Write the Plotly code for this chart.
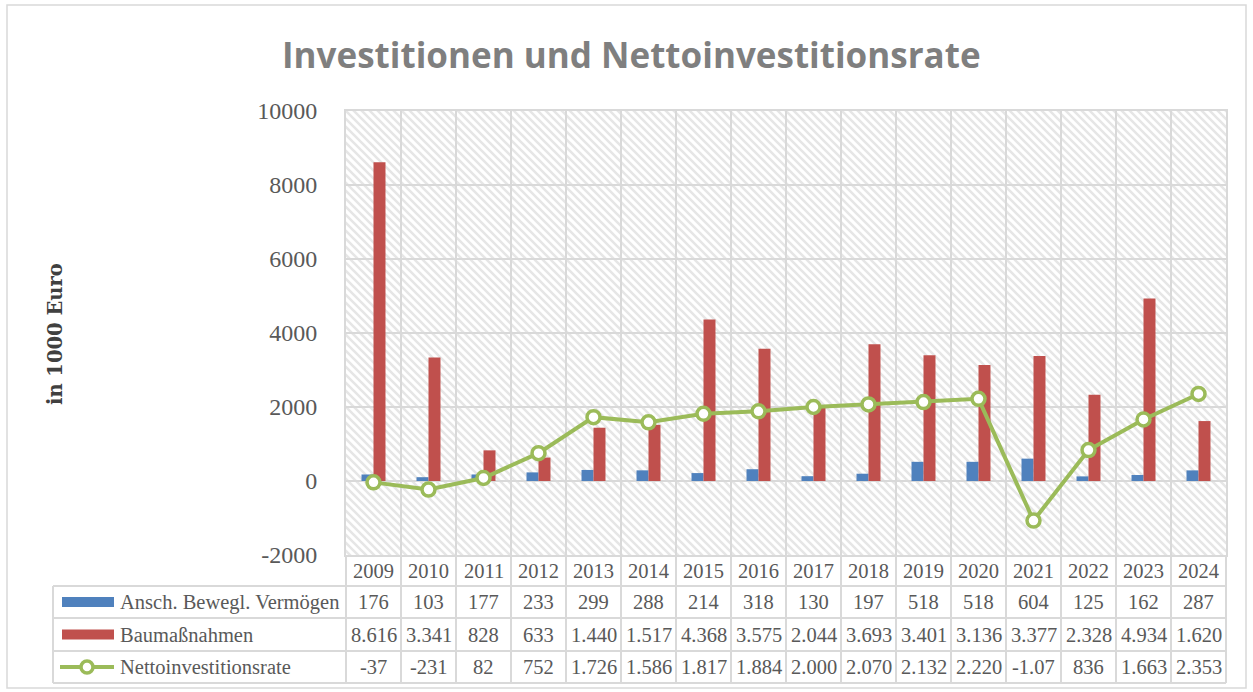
import base64
import plotly.graph_objects as go

# ---------------- data ----------------
years = ["2009", "2010", "2011", "2012", "2013", "2014", "2015", "2016",
         "2017", "2018", "2019", "2020", "2021", "2022", "2023", "2024"]
ansch = [176, 103, 177, 233, 299, 288, 214, 318, 130, 197, 518, 518, 604, 125, 162, 287]
bau = [8616, 3341, 828, 633, 1440, 1517, 4368, 3575, 2044, 3693, 3401, 3136, 3377, 2328, 4934, 1620]
netto = [-37, -231, 82, 752, 1726, 1586, 1817, 1884, 2000, 2070, 2132, 2220, -1070, 836, 1663, 2353]
netto_label_override = {"2021": "-1.07"}  # as printed in the source table
y_ticks = [-2000, 0, 2000, 4000, 6000, 8000, 10000]

series_names = ["Ansch. Bewegl. Vermögen", "Baumaßnahmen", "Nettoinvestitionsrate"]
title_text = "Investitionen und Nettoinvestitionsrate"
y_title = "in 1000 Euro"

BLUE = "#4f81bd"
RED = "#c0504d"
GREEN = "#9bbb59"
GRID = "#d9d9d9"
TXT = "#595959"
SERIF = "Liberation Serif, Times New Roman, serif"


def de_fmt(v):
    s = f"{abs(v):,}".replace(",", ".")
    return ("-" if v < 0 else "") + s


# ---------------- geometry (pixels) ----------------
FW, FH = 1253, 692
L, R, T, B = 346, 1226, 111, 555
W, H = R - L, B - T


def px(x):
    return (x - L) / W


def py(y):
    return (B - y) / H


fig = go.Figure()
fig.add_trace(go.Bar(x=years, y=ansch, name=series_names[0], marker_color=BLUE,
                     marker_line_width=0))
fig.add_trace(go.Bar(x=years, y=bau, name=series_names[1], marker_color=RED,
                     marker_line_width=0))
fig.add_trace(go.Scatter(x=years, y=netto, name=series_names[2], mode="lines+markers",
                         line=dict(color=GREEN, width=4),
                         marker=dict(symbol="circle", size=13, color="white",
                                     line=dict(color=GREEN, width=3.5))))

# hatched plot background
svg = (
    f'<svg xmlns="http://www.w3.org/2000/svg" width="{W}" height="{H}">'
    '<defs><pattern id="p" patternUnits="userSpaceOnUse" width="8" height="8">'
    '<path d="M0,0 L8,8 M-2,6 L2,10 M6,-2 L10,2" stroke="#e6e6e6" stroke-width="2.6"/>'
    '</pattern></defs>'
    f'<rect width="{W}" height="{H}" fill="white"/>'
    f'<rect width="{W}" height="{H}" fill="url(#p)"/></svg>'
)
src = "data:image/svg+xml;base64," + base64.b64encode(svg.encode()).decode()

shapes = []
annotations = []

# outer chart border
shapes.append(dict(type="rect", xref="paper", yref="paper",
                   x0=px(7), x1=px(1246), y0=py(5), y1=py(688),
                   line=dict(color=GRID, width=1.5), layer="below"))

# data table grid
row_lines = [586, 618, 651, 683]
for yy in row_lines:
    shapes.append(dict(type="line", xref="paper", yref="paper",
                       x0=px(53), x1=px(R), y0=py(yy), y1=py(yy),
                       line=dict(color=GRID, width=2)))
shapes.append(dict(type="line", xref="paper", yref="paper",
                   x0=px(53), x1=px(53), y0=py(586), y1=py(683),
                   line=dict(color=GRID, width=2)))
for i in range(len(years) + 1):
    xx = L + W * i / len(years)
    shapes.append(dict(type="line", xref="paper", yref="paper",
                       x0=px(xx), x1=px(xx), y0=py(B), y1=py(683),
                       line=dict(color=GRID, width=2)))

row_centers = [570.5, 602, 634.5, 667]
tfont = dict(family=SERIF, size=20.5, color=TXT)
# category axes take the category's serial number for annotation positions
for idx, yr in enumerate(years):
    annotations.append(dict(x=idx, xref="x", y=py(row_centers[0]), yref="paper",
                            text=yr, showarrow=False, font=tfont,
                            xanchor="center", yanchor="middle"))
rows = [
    [de_fmt(v) for v in ansch],
    [de_fmt(v) for v in bau],
    [netto_label_override.get(yr, de_fmt(v)) for yr, v in zip(years, netto)],
]
for r, vals in enumerate(rows):
    for idx, t in enumerate(vals):
        annotations.append(dict(x=idx, xref="x", y=py(row_centers[r + 1]), yref="paper",
                                text=t, showarrow=False, font=tfont,
                                xanchor="center", yanchor="middle"))
    annotations.append(dict(x=px(118), xref="paper", y=py(row_centers[r + 1]), yref="paper",
                            text=series_names[r], showarrow=False, font=tfont,
                            xanchor="left", yanchor="middle"))

# legend keys in the table
for r, col in enumerate([BLUE, RED]):
    yc = row_centers[r + 1]
    shapes.append(dict(type="rect", xref="paper", yref="paper",
                       x0=px(62), x1=px(114), y0=py(yc - 5), y1=py(yc + 5),
                       fillcolor=col, line=dict(width=0)))
yc = row_centers[3]
shapes.append(dict(type="line", xref="paper", yref="paper",
                   x0=px(60), x1=px(114), y0=py(yc), y1=py(yc),
                   line=dict(color=GREEN, width=4)))
shapes.append(dict(type="circle", xref="paper", yref="paper",
                   x0=px(81), x1=px(93), y0=py(yc - 6), y1=py(yc + 6),
                   fillcolor="white", line=dict(color=GREEN, width=3.5)))

# title and y-axis title
annotations.append(dict(x=px(631), xref="paper", y=py(55), yref="paper",
                        text=f"<b>{title_text}</b>", showarrow=False,
                        font=dict(family="Open Sans, sans-serif", size=35, color="#7f7f7f"),
                        xanchor="center", yanchor="middle"))
annotations.append(dict(x=px(55), xref="paper", y=py(334), yref="paper",
                        text=f"<b>{y_title}</b>", showarrow=False, textangle=-90,
                        font=dict(family="DejaVu Serif, serif", size=19.5, color="#404040"),
                        xanchor="center", yanchor="middle"))

fig.update_layout(
    width=FW, height=FH,
    margin=dict(l=L, r=FW - R, t=T, b=FH - B, pad=0),
    paper_bgcolor="white", plot_bgcolor="white",
    showlegend=False,
    barmode="group", bargap=0.564, bargroupgap=0,
    images=[dict(source=src, xref="paper", yref="paper", x=0, y=1,
                 sizex=1, sizey=1, sizing="stretch", layer="below",
                 xanchor="left", yanchor="top")],
    shapes=shapes,
    annotations=annotations,
    xaxis=dict(type="category", range=[-0.5, len(years) - 0.5],
               tickson="boundaries", showgrid=True, gridcolor=GRID, gridwidth=2,
               showticklabels=False, ticks="", showline=True, linecolor=GRID,
               linewidth=2, mirror=True, zeroline=False),
    yaxis=dict(range=[-2000, 10000], tickmode="array", tickvals=y_ticks,
               ticktext=[str(v) for v in y_ticks],
               showgrid=True, gridcolor=GRID,
               gridwidth=2, zeroline=True, zerolinecolor=GRID, zerolinewidth=2,
               ticks="outside", ticklen=22, tickcolor="rgba(0,0,0,0)",
               tickfont=dict(family=SERIF, size=24, color=TXT),
               showline=True, linecolor=GRID, linewidth=2, mirror=True),
)

fig.write_html("out.html", config={"displayModeBar": False},
               post_script="document.body.style.margin='0';")
